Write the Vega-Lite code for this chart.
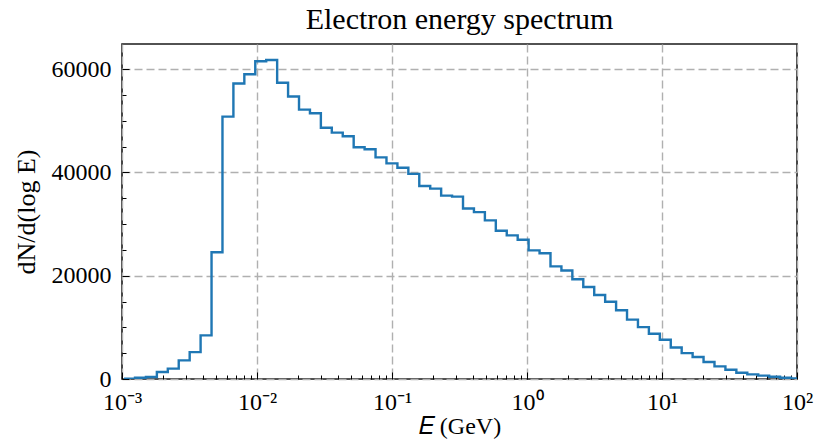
{
  "$schema": "https://vega.github.io/schema/vega-lite/v6.json",
  "width": 675,
  "height": 335,
  "autosize": "none",
  "padding": {"left": 122, "top": 44, "right": 37, "bottom": 64},
  "background": "white",
  "title": {"text": "Electron energy spectrum", "fontSize": 30, "font": "Liberation Serif", "fontWeight": "normal", "color": "black", "offset": 9},
  "config": {"view": {"stroke": "#1a1a1a", "strokeWidth": 1.6}, "font": "Liberation Serif"},
  "data": {"values": [
    {"E": 0.0010358, "N": 80},
    {"E": 0.0012482, "N": 250},
    {"E": 0.0015042, "N": 400},
    {"E": 0.0018126, "N": 1350},
    {"E": 0.0021842, "N": 2000},
    {"E": 0.0026321, "N": 3600},
    {"E": 0.0031717, "N": 5200},
    {"E": 0.0038214, "N": 8450},
    {"E": 0.0046051, "N": 24550},
    {"E": 0.0055491, "N": 50800},
    {"E": 0.0066865, "N": 57200},
    {"E": 0.0080566, "N": 59000},
    {"E": 0.0097096, "N": 61500},
    {"E": 0.0117, "N": 61750},
    {"E": 0.0141, "N": 57350},
    {"E": 0.01699, "N": 54700},
    {"E": 0.020474, "N": 52150},
    {"E": 0.024672, "N": 51450},
    {"E": 0.029723, "N": 48650},
    {"E": 0.035817, "N": 47700},
    {"E": 0.043163, "N": 47000},
    {"E": 0.052013, "N": 44850},
    {"E": 0.062676, "N": 44470},
    {"E": 0.075527, "N": 42900},
    {"E": 0.09101, "N": 41750},
    {"E": 0.10967, "N": 40900},
    {"E": 0.13216, "N": 39700},
    {"E": 0.15926, "N": 37350},
    {"E": 0.19191, "N": 36850},
    {"E": 0.23121, "N": 35500},
    {"E": 0.27861, "N": 35300},
    {"E": 0.33574, "N": 33000},
    {"E": 0.40458, "N": 32300},
    {"E": 0.48753, "N": 30700},
    {"E": 0.5875, "N": 28700},
    {"E": 0.70795, "N": 27800},
    {"E": 0.8531, "N": 26950},
    {"E": 1.028, "N": 24900},
    {"E": 1.2388, "N": 24350},
    {"E": 1.4928, "N": 21800},
    {"E": 1.7985, "N": 21000},
    {"E": 2.1673, "N": 19300},
    {"E": 2.6116, "N": 17800},
    {"E": 3.147, "N": 16250},
    {"E": 3.7925, "N": 14950},
    {"E": 4.5703, "N": 13300},
    {"E": 5.5071, "N": 11500},
    {"E": 6.6358, "N": 10050},
    {"E": 7.9963, "N": 8750},
    {"E": 9.6361, "N": 7600},
    {"E": 11.612, "N": 6100},
    {"E": 13.989, "N": 5000},
    {"E": 16.858, "N": 4250},
    {"E": 20.314, "N": 3300},
    {"E": 24.479, "N": 2450},
    {"E": 29.498, "N": 1800},
    {"E": 35.546, "N": 1200},
    {"E": 42.836, "N": 900},
    {"E": 51.62, "N": 650},
    {"E": 62.202, "N": 450},
    {"E": 74.958, "N": 250},
    {"E": 90.321, "N": 130},
    {"E": 108.84, "N": 130}
  ]},
  "mark": {"type": "line", "interpolate": "step-after", "color": "#1f77b4", "strokeWidth": 2.4, "clip": true},
  "encoding": {
    "x": {
      "field": "E", "type": "quantitative",
      "scale": {"type": "log", "domain": [0.001, 100], "nice": false},
      "axis": {
        "title": "𝐸 (GeV)",
        "values": [0.001,0.002,0.003,0.004,0.005,0.006,0.007,0.008,0.009,0.01,0.02,0.03,0.04,0.05,0.06,0.07,0.08,0.09,0.1,0.2,0.3,0.4,0.5,0.6,0.7,0.8,0.9,1,2,3,4,5,6,7,8,9,10,20,30,40,50,60,70,80,90,100],
        "labelExpr": "abs(log(datum.value)/LN10 - round(log(datum.value)/LN10)) > 0.01 ? '' : ['10⁻³','10⁻²','10⁻¹','10⁰','10¹','10²'][round(log(datum.value)/LN10)+3]",
        "labelFont": "Liberation Serif", "labelFontSize": 24, "labelColor": "black",
        "labelPadding": 18, "labelFlush": false, "labelOverlap": false,
        "tickColor": "black", "tickWidth": 1,
        "tickSize": {"condition": {"test": "abs(log(datum.value)/LN10 - round(log(datum.value)/LN10)) > 0.01", "value": -4}, "value": -7},
        "domain": false,
        "grid": true, "gridColor": "#b0b0b0", "gridDash": [8, 4], "gridWidth": 1.4,
        "gridOpacity": {"condition": {"test": "abs(log(datum.value)/LN10 - round(log(datum.value)/LN10)) > 0.01", "value": 0}, "value": 1},
        "titleFont": "Liberation Serif", "titleFontSize": 24, "titleFontWeight": "normal", "titleColor": "black", "titlePadding": -3
      }
    },
    "y": {
      "field": "N", "type": "quantitative",
      "scale": {"domain": [0, 64850], "nice": false},
      "axis": {
        "title": "dN/d(log E)",
        "values": [0,5000,10000,15000,20000,25000,30000,35000,40000,45000,50000,55000,60000],
        "format": "d",
        "labelExpr": "datum.value % 20000 == 0 ? datum.label : ''",
        "labelFont": "Liberation Serif", "labelFontSize": 24, "labelColor": "black",
        "labelPadding": 18, "labelFlush": false, "labelOverlap": false,
        "tickColor": "black", "tickWidth": 1,
        "tickSize": {"condition": {"test": "datum.value % 20000 != 0", "value": -4}, "value": -7},
        "domain": false,
        "grid": true, "gridColor": "#b0b0b0", "gridDash": [8, 4], "gridWidth": 1.4,
        "gridOpacity": {"condition": {"test": "datum.value % 20000 != 0", "value": 0}, "value": 1},
        "titleFont": "Liberation Serif", "titleFontSize": 26, "titleFontWeight": "normal", "titleColor": "black", "titlePadding": 12
      }
    }
  }
}
